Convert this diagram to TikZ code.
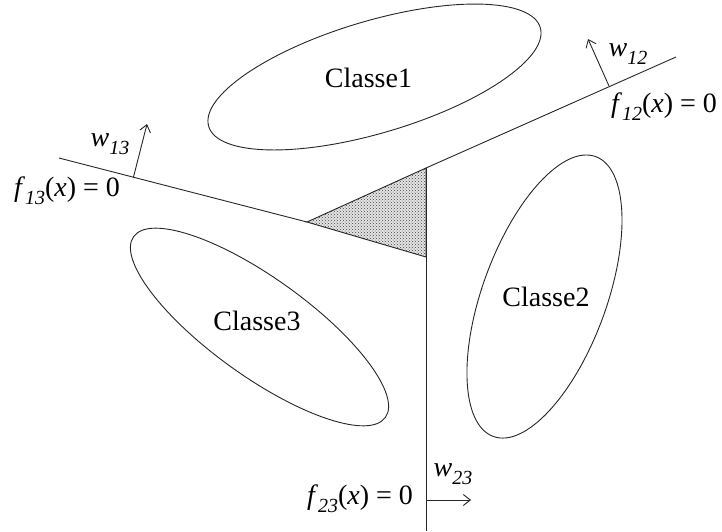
\documentclass[tikz,border=0pt]{standalone}
\usepackage{fontspec}
\setmainfont{Liberation Serif}
\usetikzlibrary{arrows.meta,patterns}
\newcommand\mysub[1]{\raisebox{-0.28em}{\fontsize{20}{22}\selectfont\itshape #1}}
\begin{document}
\begin{tikzpicture}[x=1pt,y=-1pt,
  line/.style={black!85,line width=0.9pt},
  vec/.style={line,-{Straight Barb[length=7pt,width=11pt]}},
  lab/.style={inner sep=0pt,font=\fontsize{28}{34}\selectfont}]
\useasboundingbox (0,0) rectangle (722,531);
% key points
\coordinate (p13) at (59,158);
\coordinate (L) at (307,222);
\coordinate (T) at (426,168);
\coordinate (B) at (426,257);
\coordinate (p12) at (676,57);
\coordinate (p23) at (426,531);
\coordinate (b13) at (133.5,177); \coordinate (t13) at (147,124);
\coordinate (b12) at (609,86);    \coordinate (t12) at (588,39);
\coordinate (b23) at (426,500);   \coordinate (t23) at (471,500);
\coordinate (c1) at (374.5,77);
\coordinate (c2) at (544.5,296.5);
\coordinate (c3) at (259.5,327);
% shaded region
\fill[black!10] (L) -- (T) -- (B) -- cycle;
\fill[pattern=crosshatch dots,pattern color=black!75] (L) -- (T) -- (B) -- cycle;
\draw[line] (L) -- (T) -- (B) -- cycle;
% boundaries
\draw[line] (p13) -- (L);
\draw[line] (T) -- (p12);
\draw[line] (T) -- (p23);
% normal vectors
\draw[vec] (b13) -- (t13);
\draw[vec] (b12) -- (t12);
\draw[vec] (b23) -- (t23);
% classes
\draw[line,rotate around={16.6:(c1)}] (c1) ellipse[x radius=173pt,y radius=56pt];
\draw[line,rotate around={69.9:(c2)}] (c2) ellipse[x radius=149pt,y radius=62pt];
\draw[line,rotate around={-35.7:(c3)}] (c3) ellipse[x radius=155pt,y radius=49pt];
\node[lab] (n1) at (368.5,78) {Classe1};
\node[lab] (n2) at (546,297) {Classe2};
\node[lab] (n3) at (257,321) {Classe3};
% labels
\node[lab] (lw13) at (110,144) {\textit{w}\mysub{13}};
\node[lab] (lf13) at (67,191) {\textit{f}\mysub{13}(\textit{x}) = 0};
\node[lab] (lw12) at (628,54) {\textit{w}\mysub{12}};
\node[lab] (lf12) at (664,107) {\textit{f}\mysub{12}(\textit{x}) = 0};
\node[lab] (lw23) at (453,474) {\textit{w}\mysub{23}};
\node[lab] (lf23) at (360,499) {\textit{f}\mysub{23}(\textit{x}) = 0};
\end{tikzpicture}
\end{document}
